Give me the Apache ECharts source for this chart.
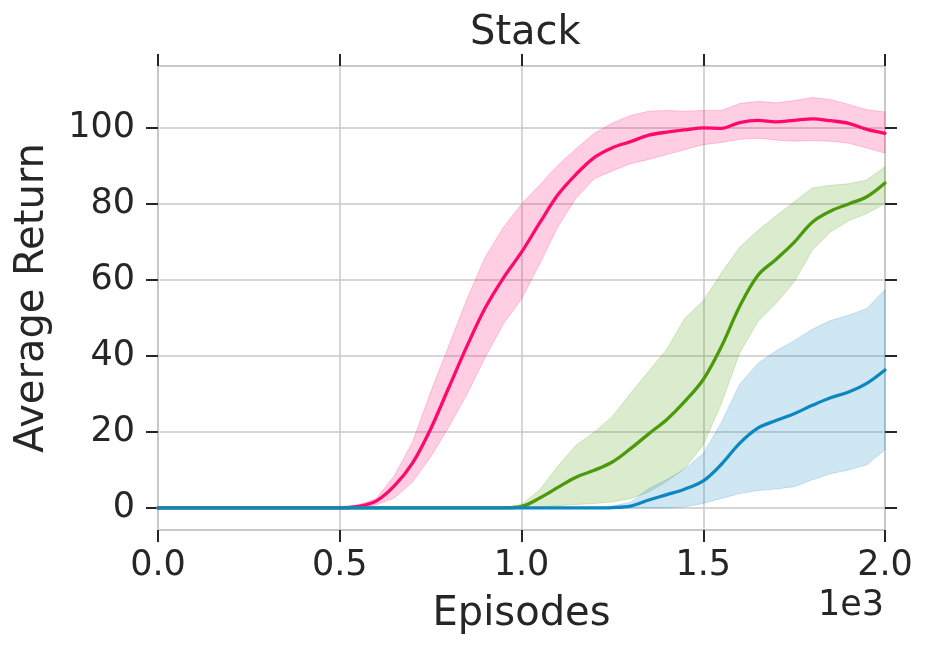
<!DOCTYPE html>
<html>
<head>
<meta charset="utf-8">
<script src="https://cdn.jsdelivr.net/npm/echarts@6/dist/echarts.min.js"></script>
<style>
  html, body { margin: 0; padding: 0; background: #fff; }
  #chart { width: 930px; height: 653px; }
</style>
</head>
<body>
<div id="chart"></div>
<script>
// episodes (x values)
const episodes = [0, 50, 100, 150, 200, 250, 300, 350, 400, 450, 500, 550, 600, 650, 700, 750, 800, 850, 900, 950,
  1000, 1050, 1100, 1150, 1200, 1250, 1300, 1350, 1400, 1450, 1500, 1550, 1600, 1650, 1700, 1750, 1800, 1850, 1900, 1950, 2000]

// pink run
const pinkMean = [0, 0, 0, 0, 0, 0, 0, 0, 0, 0, 0, 0.4, 1.8, 5.8, 11.8, 20.8, 31.7, 42.6, 52.6, 60.5,
  67.3, 75, 82.4, 87.8, 92.2, 94.8, 96.4, 98.1, 98.9, 99.5, 100, 99.9, 101.4, 102, 101.6, 102, 102.4, 101.9, 101.2, 99.6, 98.6]
const pinkHigh = [0, 0, 0, 0, 0, 0, 0, 0, 0, 0, 0, 0.8, 2.4, 8.5, 17.3, 30.5, 42.7, 55, 66, 73.8,
  80, 85, 90.2, 94.5, 98.6, 101.3, 103.3, 104.4, 104.6, 104.4, 104.6, 104.6, 106.4, 107, 106.6, 107.2, 108, 107.5, 106.2, 104.8, 104.2]
const pinkLow = [0, 0, 0, 0, 0, 0, 0, 0, 0, 0, 0, 0, 0.8, 2.6, 6.8, 13.4, 21.3, 29.9, 39.6, 48.4,
  55, 64.2, 74, 81.5, 86.6, 88.7, 90.6, 91.7, 93, 94.3, 95.6, 96.2, 97, 97.3, 96.8, 96.5, 96.7, 96.5, 96, 94.7, 93.4]

// green run
const greenMean = [0, 0, 0, 0, 0, 0, 0, 0, 0, 0, 0, 0, 0, 0, 0, 0, 0, 0, 0, 0,
  0.4, 2.6, 5.4, 8.1, 9.9, 12.1, 15.6, 19.5, 23.3, 28.1, 33.8, 42.5, 53, 61.2, 65.4, 69.9, 75.2, 78.1, 80, 81.9, 85.5]
const greenHigh = [0, 0, 0, 0, 0, 0, 0, 0, 0, 0, 0, 0, 0, 0, 0, 0, 0, 0, 0, 0,
  0.9, 4.8, 11, 16.5, 19.9, 24.1, 30.2, 36, 41.8, 50, 54.5, 61.8, 68.6, 73, 76.8, 80.6, 84.2, 84.9, 85.3, 86.3, 89.8]
const greenLow = [0, 0, 0, 0, 0, 0, 0, 0, 0, 0, 0, 0, 0, 0, 0, 0, 0, 0, 0, 0,
  0, 0.2, 0.6, 0.9, 1.2, 1.6, 2.5, 4.2, 7, 10.5, 16.6, 27.5, 40.8, 49, 53.8, 59.5, 67.8, 72.6, 75.6, 77.5, 80.1]

// blue run
const blueMean = [0, 0, 0, 0, 0, 0, 0, 0, 0, 0, 0, 0, 0, 0, 0, 0, 0, 0, 0, 0,
  0, 0, 0, 0, 0, 0.1, 0.5, 2.1, 3.5, 5, 7.1, 11.5, 17, 21, 23, 24.8, 27, 29, 30.5, 32.8, 36.3]
const blueHigh = [0, 0, 0, 0, 0, 0, 0, 0, 0, 0, 0, 0, 0, 0, 0, 0, 0, 0, 0, 0,
  0, 0, 0, 0, 0, 0.5, 1.5, 5.1, 7.5, 10.3, 14.3, 22.5, 32.5, 38, 41.3, 44, 47, 49.3, 50.7, 52.5, 57.4]
const blueLow = [0, 0, 0, 0, 0, 0, 0, 0, 0, 0, 0, 0, 0, 0, 0, 0, 0, 0, 0, 0,
  0, 0, 0, 0, 0, 0, 0, 0, 0, 0.3, 1.2, 2.5, 3.8, 4.6, 5, 5.6, 7.4, 9, 10, 11.4, 15.3]

const yTicks = [0, 20, 40, 60, 80, 100]

const textColor = '#262626'
const font = 'DejaVu Sans'

const runs = [
  { name: 'pink', color: '#ff0a6c', mean: pinkMean, low: pinkLow, high: pinkHigh },
  { name: 'green', color: '#4b9a0b', mean: greenMean, low: greenLow, high: greenHigh },
  { name: 'blue', color: '#0d87c2', mean: blueMean, low: blueLow, high: blueHigh }
]

// shaded band between low and high, drawn as one polygon through the axes' coords
function bandSeries(run) {
  return {
    type: 'custom',
    name: run.name + ' band',
    silent: true,
    z: 1,
    data: [[0, 0]],
    renderItem: function (params, api) {
      const pts = []
      for (let i = 0; i < episodes.length; i++) pts.push(api.coord([episodes[i], run.high[i]]))
      for (let i = episodes.length - 1; i >= 0; i--) pts.push(api.coord([episodes[i], run.low[i]]))
      return {
        type: 'polygon',
        shape: { points: pts },
        style: { fill: run.color, opacity: 0.2, stroke: run.color, lineWidth: 1, lineJoin: 'round' }
      }
    }
  }
}

function lineSeries(run) {
  return {
    type: 'line',
    name: run.name,
    z: 3,
    showSymbol: false,
    smooth: 0.35,
    lineStyle: { color: run.color, width: 3.3, join: 'round', cap: 'round' },
    itemStyle: { color: run.color },
    data: episodes.map((x, i) => [x, run.mean[i]])
  }
}

// dark outward ticks on all four sides
function ticks(custom) {
  const t = { show: true, inside: false, length: 12, lineStyle: { color: textColor, width: 2 } }
  if (custom) t.customValues = custom
  return t
}

const chart = echarts.init(document.getElementById('chart'))

const gridLine = { show: true, lineStyle: { color: '#c9c9c9', width: 1.5 } }

chart.setOption({
  animation: false,
  backgroundColor: '#fff',
  title: {
    text: 'Stack',
    left: 465,
    top: 9,
    textStyle: { fontFamily: font, fontSize: 40, fontWeight: 'normal', color: textColor }
  },
  grid: {
    left: 158, right: 45, top: 66, bottom: 123,
    show: true, borderColor: '#c8c8c8', borderWidth: 2
  },
  graphic: [{
    type: 'text',
    x: 884, y: 606,
    style: {
      text: '1e3', fill: textColor, font: '35px "DejaVu Sans"',
      textAlign: 'right', textVerticalAlign: 'middle'
    }
  }],
  xAxis: [{
    type: 'value', position: 'bottom', min: 0, max: 2000, interval: 500,
    name: 'Episodes', nameLocation: 'middle', nameGap: 65,
    nameTextStyle: { fontFamily: font, fontSize: 40, color: textColor },
    axisLine: { show: false, onZero: false },
    axisTick: ticks(),
    axisLabel: {
      margin: 18, fontFamily: font, fontSize: 35, color: textColor,
      formatter: v => (v / 1000).toFixed(1)
    },
    splitLine: gridLine
  }, {
    type: 'value', position: 'top', min: 0, max: 2000, interval: 500,
    axisLine: { show: false, onZero: false }, axisTick: ticks(),
    axisLabel: { show: false }, splitLine: { show: false }
  }],
  yAxis: [{
    type: 'value', position: 'left', min: -5.8, max: 116.3,
    name: 'Average Return', nameLocation: 'middle', nameGap: 105,
    nameTextStyle: { fontFamily: font, fontSize: 40, color: textColor },
    axisLine: { show: false, onZero: false },
    axisTick: ticks(yTicks),
    axisLabel: { customValues: yTicks, margin: 23, fontFamily: font, fontSize: 35, color: textColor },
    splitLine: gridLine
  }, {
    type: 'value', position: 'right', min: -5.8, max: 116.3,
    axisLine: { show: false, onZero: false },
    axisTick: ticks(yTicks),
    axisLabel: { show: false, customValues: yTicks },
    splitLine: { show: false }
  }],
  series: runs.map(bandSeries).concat(runs.map(lineSeries))
})
</script>
</body>
</html>
